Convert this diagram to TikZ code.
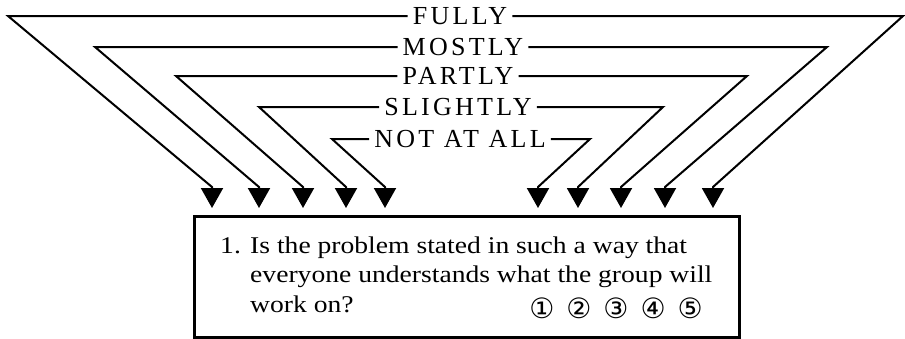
\documentclass[tikz,border=0pt]{standalone}
\usepackage{fontspec}
\setmainfont{Liberation Serif}
\newfontfamily\circfont{DejaVu Sans}
\newfontfamily\capsfont[LetterSpace=12.5]{Liberation Serif}
\newfontfamily\bodyfont[FakeStretch=1.15]{Liberation Serif}
\usetikzlibrary{arrows.meta}

\begin{document}
\begin{tikzpicture}[x=1pt, y=-1pt,
    lbl/.style={font=\capsfont\fontsize{26}{28}\selectfont, inner xsep=5pt, inner ysep=0pt, text height=17pt, text depth=0pt},
    conn/.style={line width=2pt, -{Triangle[width=22pt,length=20pt]}},
    qbox/.style={draw, line width=2.5pt, minimum width=545pt, minimum height=121pt, anchor=north west, inner sep=0pt},
    qtext/.style={anchor=base west, inner sep=0pt, font=\bodyfont\fontsize{24}{29.5}\selectfont}]
    \useasboundingbox (0,0) rectangle (905,338);

    % answer labels
    \node [lbl] (fully) at (460,16) {FULLY};
    \node [lbl] (mostly) at (463,47) {MOSTLY};
    \node [lbl] (partly) at (458,76) {PARTLY};
    \node [lbl] (slightly) at (458,107) {SLIGHTLY};
    \node [lbl] (notatall) at (460,139) {NOT AT ALL};

    % corners, left and right
    \coordinate (fl) at (8,16);   \coordinate (fr) at (903,16);
    \coordinate (ml) at (95,47);  \coordinate (mr) at (827,47);
    \coordinate (pl) at (176,76); \coordinate (pr) at (747,76);
    \coordinate (sl) at (259,107); \coordinate (sr) at (663,107);
    \coordinate (nl) at (332,139); \coordinate (nr) at (590,139);

    % arrow tips
    \coordinate (tfl) at (212,208); \coordinate (tfr) at (713,208);
    \coordinate (tml) at (259,208); \coordinate (tmr) at (665,208);
    \coordinate (tpl) at (303,208); \coordinate (tpr) at (621,208);
    \coordinate (tsl) at (346,208); \coordinate (tsr) at (578,208);
    \coordinate (tnl) at (385,208); \coordinate (tnr) at (538,208);

    \draw [conn] (fully.west) -- (fl) -- ([yshift=21pt]tfl) -- (tfl);
    \draw [conn] (fully.east) -- (fr) -- ([yshift=21pt]tfr) -- (tfr);
    \draw [conn] (mostly.west) -- (ml) -- ([yshift=21pt]tml) -- (tml);
    \draw [conn] (mostly.east) -- (mr) -- ([yshift=21pt]tmr) -- (tmr);
    \draw [conn] (partly.west) -- (pl) -- ([yshift=21pt]tpl) -- (tpl);
    \draw [conn] (partly.east) -- (pr) -- ([yshift=21pt]tpr) -- (tpr);
    \draw [conn] (slightly.west) -- (sl) -- ([yshift=21pt]tsl) -- (tsl);
    \draw [conn] (slightly.east) -- (sr) -- ([yshift=21pt]tsr) -- (tsr);
    \draw [conn] (notatall.west) -- (nl) -- ([yshift=21pt]tnl) -- (tnl);
    \draw [conn] (notatall.east) -- (nr) -- ([yshift=21pt]tnr) -- (tnr);

    % question box
    \node [qbox] (box) at (193,215) {};
    \node [qtext] (num) at (220,253) {1.};
    \node [qtext, align=left] (question) at (250,312)
        {Is the problem stated in such a way that\\everyone understands what the group will\\work on?};
    \node [anchor=base east, inner sep=0pt, font=\circfont\fontsize{28}{28}\selectfont] (scale) at (703,318)
        {①\hspace{12pt}②\hspace{12pt}③\hspace{12pt}④\hspace{12pt}⑤};
\end{tikzpicture}
\end{document}
